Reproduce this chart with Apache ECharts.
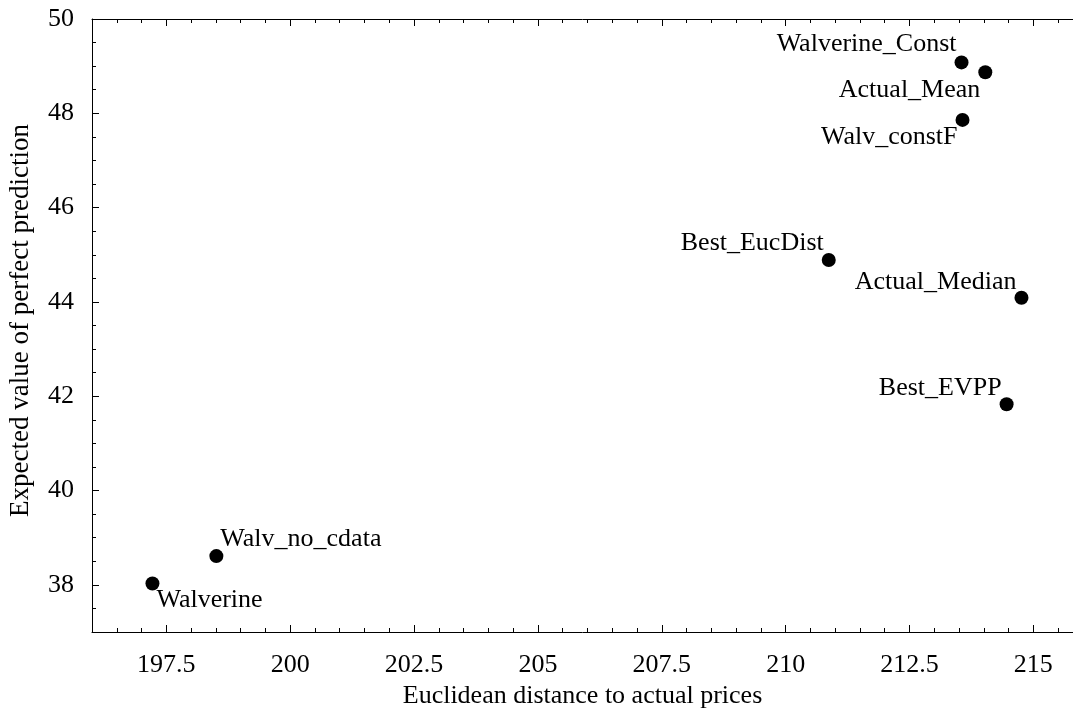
<!DOCTYPE html>
<html>
<head>
<meta charset="utf-8">
<script src="https://cdn.jsdelivr.net/npm/echarts@6/dist/echarts.min.js"></script>
<style>
  html, body { margin: 0; padding: 0; background: #fff; }
  #chart { width: 1073px; height: 708px; }
</style>
</head>
<body>
<div id="chart"></div>
<script>
// ---- data ----
const names = ['Walverine', 'Walv_no_cdata', 'Walverine_Const', 'Actual_Mean', 'Walv_constF', 'Best_EucDist', 'Actual_Median', 'Best_EVPP'];
const xValues = [197.22, 198.51, 213.55, 214.03, 213.57, 210.87, 214.76, 214.46];
const yValues = [38.03, 38.61, 49.08, 48.87, 47.86, 44.89, 44.09, 41.83];

const xTickLabels = [197.5, 200, 202.5, 205, 207.5, 210, 212.5, 215];
const yTickLabels = [38, 40, 42, 44, 46, 48, 50];

const xTitle = 'Euclidean distance to actual prices';
const yTitle = 'Expected value of perfect prediction';

// ---- label placement (style, not data) ----
const labelPlacement = {
  'Walverine':       { position: 'right', offset: [-3, 17] },
  'Walv_no_cdata':   { position: 'right', offset: [-3, -17] },
  'Walverine_Const': { position: 'left',  offset: [2, -18] },
  'Actual_Mean':     { position: 'left',  offset: [2, 18] },
  'Walv_constF':     { position: 'left',  offset: [2, 17] },
  'Best_EucDist':    { position: 'left',  offset: [2, -17] },
  'Actual_Median':   { position: 'left',  offset: [2, -16] },
  'Best_EVPP':       { position: 'left',  offset: [2, -16] }
};

const FONT = "'Liberation Serif', 'Times New Roman', serif";
const FS = 26;
const X_MIN = 196, X_MAX = 215.8, Y_MIN = 37, Y_MAX = 50;

const points = names.map((n, i) => ({
  name: n,
  value: [xValues[i], yValues[i]],
  label: {
    show: true,
    formatter: n,
    position: labelPlacement[n].position,
    distance: 0,
    offset: labelPlacement[n].offset,
    fontFamily: FONT,
    fontSize: FS,
    color: '#000'
  }
}));

const lineStyle = { color: '#000', width: 1 };

function xAxisBase(pos) {
  return {
    type: 'value', position: pos, min: X_MIN, max: X_MAX,
    splitLine: { show: false },
    axisLine: { show: true, onZero: false, lineStyle: lineStyle }
  };
}
function yAxisBase(pos) {
  return {
    type: 'value', position: pos, min: Y_MIN, max: Y_MAX,
    splitLine: { show: false },
    axisLine: { show: true, onZero: false, lineStyle: lineStyle }
  };
}

const chart = echarts.init(document.getElementById('chart'), null, { renderer: 'canvas' });
chart.setOption({
  backgroundColor: '#fff',
  animation: false,
  grid: { left: 92, top: 19, right: 0, bottom: 76, containLabel: false, outerBoundsMode: 'none' },
  xAxis: [
    Object.assign(xAxisBase('bottom'), {
      name: xTitle, nameLocation: 'middle', nameGap: 41,
      nameTextStyle: { fontFamily: FONT, fontSize: FS, color: '#000' },
      axisTick: { show: true, inside: true, length: 7, lineStyle: lineStyle, customValues: xTickLabels },
      axisLabel: { show: true, margin: 20, fontFamily: FONT, fontSize: FS, color: '#000', customValues: xTickLabels, showMinLabel: true, showMaxLabel: true }
    }),
    Object.assign(xAxisBase('bottom'), {
      interval: 0.5,
      axisLine: { show: false },
      axisTick: { show: true, inside: true, length: 4, lineStyle: lineStyle },
      axisLabel: { show: false }
    }),
    Object.assign(xAxisBase('top'), {
      axisTick: { show: true, inside: true, length: 7, lineStyle: lineStyle, customValues: xTickLabels },
      axisLabel: { show: false }
    }),
    Object.assign(xAxisBase('top'), {
      interval: 0.5,
      axisLine: { show: false },
      axisTick: { show: true, inside: true, length: 4, lineStyle: lineStyle },
      axisLabel: { show: false }
    })
  ],
  yAxis: [
    Object.assign(yAxisBase('left'), {
      name: yTitle, nameLocation: 'middle', nameGap: 58,
      nameTextStyle: { fontFamily: FONT, fontSize: 27, color: '#000', padding: [0, 0, 0, 10] },
      axisTick: { show: true, inside: true, length: 7, lineStyle: lineStyle, customValues: yTickLabels },
      axisLabel: { show: true, margin: 18, fontFamily: FONT, fontSize: FS, color: '#000', customValues: yTickLabels }
    }),
    Object.assign(yAxisBase('left'), {
      interval: 0.5,
      axisLine: { show: false },
      axisTick: { show: true, inside: true, length: 4, lineStyle: lineStyle },
      axisLabel: { show: false }
    })
  ],
  series: [{
    type: 'scatter',
    xAxisIndex: 0, yAxisIndex: 0,
    symbol: 'circle',
    symbolSize: 14,
    itemStyle: { color: '#000', opacity: 1 },
    emphasis: { disabled: true },
    data: points
  }]
});
</script>
</body>
</html>
